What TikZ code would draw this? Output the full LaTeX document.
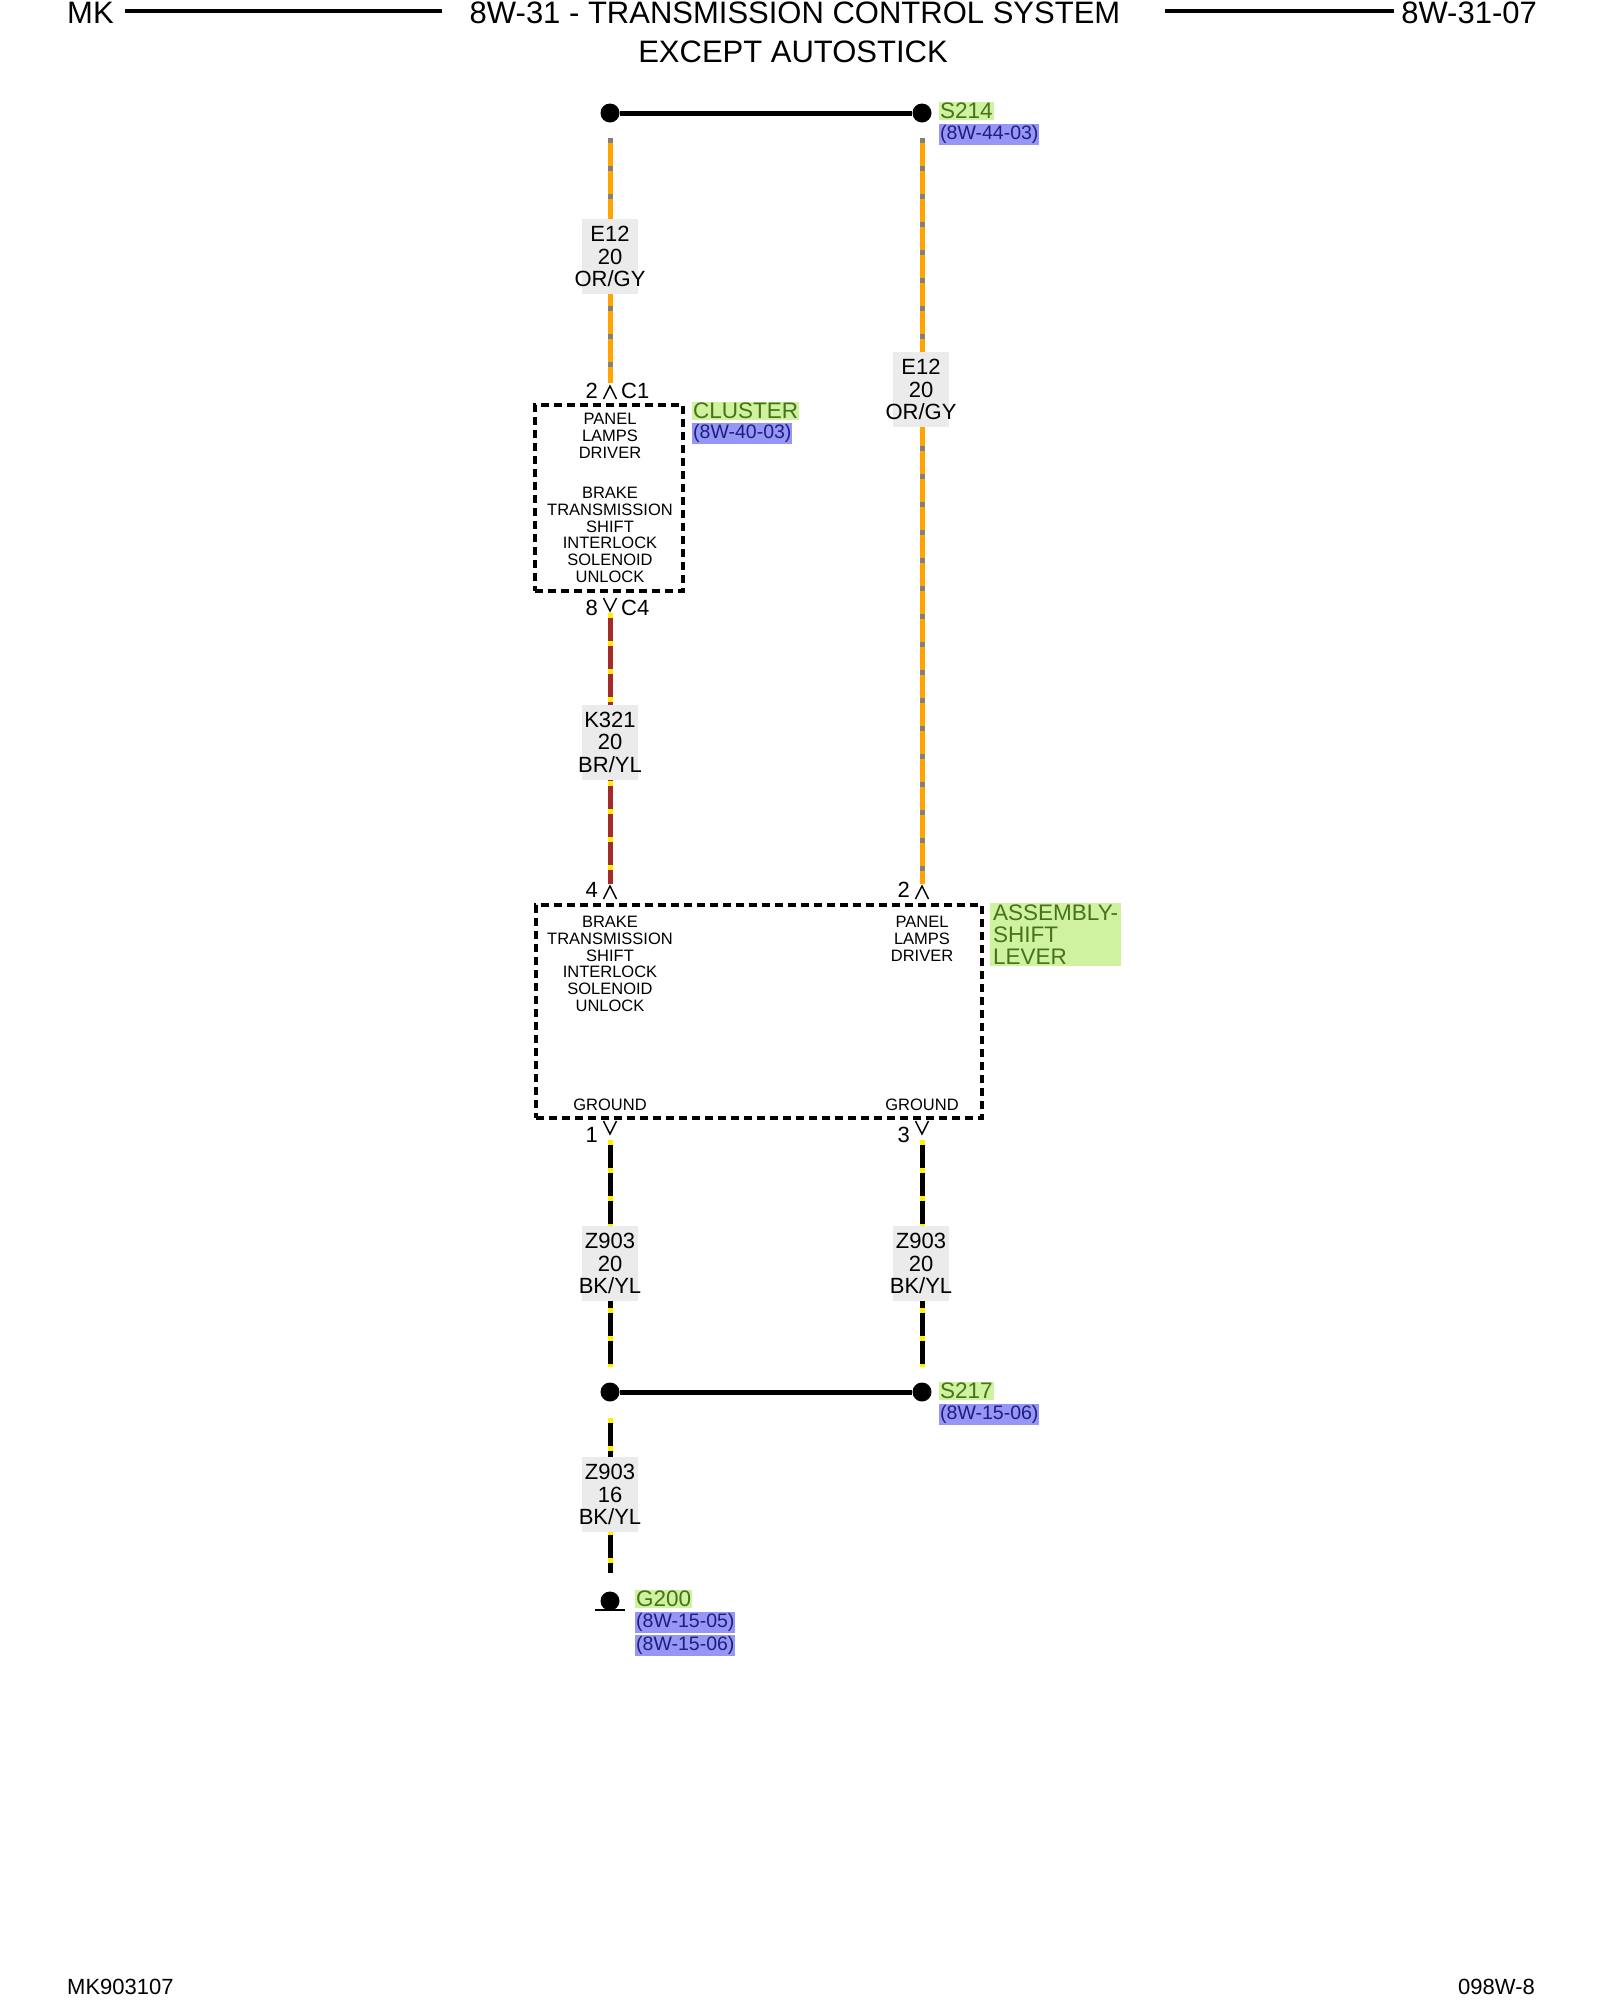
\documentclass[tikz,border=0pt]{standalone}
\usepackage{fontspec}
\setmainfont{Liberation Sans}
\usetikzlibrary{positioning}
\usetikzlibrary{calc}
\definecolor{wireor}{RGB}{255,165,0}
\definecolor{wiregy}{RGB}{128,128,128}
\definecolor{wirebr}{RGB}{165,42,42}
\definecolor{wireyl}{RGB}{255,240,0}
\definecolor{lblgray}{RGB}{235,235,235}
\definecolor{lblgreen}{RGB}{206,242,160}
\definecolor{txtgreen}{RGB}{70,115,25}
\definecolor{lblblue}{RGB}{150,150,245}
\definecolor{txtblue}{RGB}{30,30,130}
\tikzset{
	headtext/.style = {
		inner sep=0pt,
		font=\fontsize{31}{32}\selectfont
	},
	boxtext/.style = {
		align=center,
		inner sep=0pt,
		font=\fontsize{16.5}{16.7}\selectfont
	},
	pintext/.style = {
		inner sep=0pt,
		font=\fontsize{22}{22}\selectfont
	},
	wirelabel/.style = {
		fill=lblgray,
		align=center,
		inner xsep=-8pt,
		inner ysep=3pt,
		minimum width=56pt,
		minimum height=75pt,
		font=\fontsize{22}{22.5}\selectfont
	},
	wire_orgy/.style = {
		line width=5pt,
		draw=wireor,
		postaction={draw=wiregy, dash pattern=on 5pt off 23pt}
	},
	wire_bryl/.style = {
		line width=5pt,
		draw=wirebr,
		postaction={draw=wireyl, dash pattern=on 5pt off 23pt}
	},
	wire_bkyl/.style = {
		line width=5pt,
		draw=black,
		postaction={draw=wireyl, dash pattern=on 5pt off 23pt}
	},
	splice/.style = {
		circle,
		fill=black,
		inner sep=0pt,
		minimum size=19pt
	},
	module/.style = {
		draw=black,
		line width=4.5pt,
		dash pattern=on 8pt off 5pt
	},
	compname/.style = {
		fill=lblgreen,
		text=txtgreen,
		inner sep=1pt,
		anchor=west,
		font=\fontsize{22.5}{23}\selectfont
	},
	pageref/.style = {
		fill=lblblue,
		text=txtblue,
		inner sep=1pt,
		font=\fontsize{19.5}{21}\selectfont
	},
	pinmark/.style = {
		draw=black,
		line width=1.5pt
	},
}
\begin{document}
\begin{tikzpicture}[x=1pt,y=-1pt]
\useasboundingbox (0,0) rectangle (1600,2000);
% header
\node [headtext, anchor=west] (hdmk) at (67,13) {MK};
\node [headtext] (hdtitle) at (795,13) {8W-31 - TRANSMISSION CONTROL SYSTEM};
\node [headtext] (hdsub) at (793,52) {EXCEPT AUTOSTICK};
\node [headtext, anchor=east] (hdpage) at (1537,13) {8W-31-07};
\draw [line width=4.5pt] (125,11) -- (442,11);
\draw [line width=4.5pt] (1165,11) -- (1394,11);

% splice S214
\node [splice] (s214l) at (610,113) {};
\node [splice] (s214r) at (922,113) {};
\draw [line width=5pt] (s214l) -- (s214r);
\node [compname] (s214lbl) at (939,111) {S214};
\node [pageref, below=4pt of s214lbl.south west, anchor=north west] (s214ref) {(8W-44-03)};

% cluster
\node [module, minimum width=148pt, minimum height=186pt] (cluster) at (609,498) {};
\node [boxtext] (clpanel) at (610,436) {PANEL\\LAMPS\\DRIVER};
\node [boxtext] (clbrake) at (610,535) {BRAKE\\TRANSMISSION\\SHIFT\\INTERLOCK\\SOLENOID\\UNLOCK};
\node [compname] (cllbl) at (692,411) {CLUSTER};
\node [pageref, below=3pt of cllbl.south west, anchor=north west] (clref) {(8W-40-03)};

% shift lever assembly
\node [module, minimum width=446pt, minimum height=213pt] (shifter) at (759,1011.5) {};
\node [boxtext] (shbrake) at (610,964) {BRAKE\\TRANSMISSION\\SHIFT\\INTERLOCK\\SOLENOID\\UNLOCK};
\node [boxtext] (shpanel) at (922,939) {PANEL\\LAMPS\\DRIVER};
\node [boxtext] (shgnd1) at (610,1105) {GROUND};
\node [boxtext] (shgnd3) at (922,1105) {GROUND};
\node [compname, anchor=north west, align=left, minimum width=131pt, inner sep=1.5pt, font=\fontsize{22.5}{22}\selectfont] (shlbl) at (990,903) {ASSEMBLY-\\SHIFT\\LEVER};

% pins
\coordinate (c1) at (610,386);
\coordinate (c4) at (610,611);
\coordinate (sh4) at (610,886);
\coordinate (sh2) at (922,886);
\coordinate (sh1) at (610,1134);
\coordinate (sh3) at (922,1134);
\foreach \p in {c1,sh4,sh2}
	\draw [pinmark] ($(\p)+(-6.5,13)$) -- (\p) -- ($(\p)+(6.5,13)$);
\foreach \p in {c4,sh1,sh3}
	\draw [pinmark] ($(\p)+(-6.5,-13)$) -- (\p) -- ($(\p)+(6.5,-13)$);
\node [pintext, anchor=east] (c1n) at (598,391) {2};
\node [pintext, anchor=west] (c1c) at (621,391) {C1};
\node [pintext, anchor=east] (c4n) at (598,608) {8};
\node [pintext, anchor=west] (c4c) at (621,608) {C4};
\node [pintext, anchor=east] (sh4n) at (598,890) {4};
\node [pintext, anchor=east] (sh2n) at (910,890) {2};
\node [pintext, anchor=east] (sh1n) at (598,1135) {1};
\node [pintext, anchor=east] (sh3n) at (910,1135) {3};

% wires
\coordinate (e12la) at (610,138);
\coordinate (e12lb) at (610,383);
\coordinate (e12ra) at (922,138);
\coordinate (e12rb) at (922,884);
\coordinate (k321a) at (610,613);
\coordinate (k321b) at (610,884);
\coordinate (z903la) at (610,1140);
\coordinate (z903lb) at (610,1367);
\coordinate (z903ra) at (922,1140);
\coordinate (z903rb) at (922,1367);
\coordinate (z903ga) at (610,1418);
\coordinate (z903gb) at (610,1573);
\draw [wire_orgy] (e12la) -- (e12lb);
\draw [wire_orgy] (e12ra) -- (e12rb);
\draw [wire_bryl] (k321a) -- (k321b);
\draw [wire_bkyl] (z903la) -- (z903lb);
\draw [wire_bkyl] (z903ra) -- (z903rb);
\draw [wire_bkyl] (z903ga) -- (z903gb);
\node [wirelabel] (e12ll) at (610,256.5) {E12\\20\\OR/GY};
\node [wirelabel] (e12rl) at (921,389.5) {E12\\20\\OR/GY};
\node [wirelabel] (k321l) at (610,742) {K321\\20\\BR/YL};
\node [wirelabel] (z903ll) at (610,1263.5) {Z903\\20\\BK/YL};
\node [wirelabel] (z903rl) at (921,1263.5) {Z903\\20\\BK/YL};
\node [wirelabel] (z903gl) at (610,1494.5) {Z903\\16\\BK/YL};

% splice S217
\node [splice] (s217l) at (610,1392) {};
\node [splice] (s217r) at (922,1392) {};
\draw [line width=5pt] (s217l) -- (s217r);
\node [compname] (s217lbl) at (939,1391) {S217};
\node [pageref, below=4pt of s217lbl.south west, anchor=north west] (s217ref) {(8W-15-06)};

% ground G200
\node [splice] (g200) at (610,1601) {};
\draw [line width=2.5pt] ($(g200)+(-15,9)$) -- ($(g200)+(15,9)$);
\node [compname] (g200lbl) at (635,1599) {G200};
\node [pageref, below=4pt of g200lbl.south west, anchor=north west] (g200ref1) {(8W-15-05)};
\node [pageref, below=2.5pt of g200ref1.south west, anchor=north west] (g200ref2) {(8W-15-06)};

% footer
\node [pintext, anchor=west] (ftcode) at (67,1987) {MK903107};
\node [pintext, anchor=east] (ftpage) at (1535,1987) {098W-8};
\end{tikzpicture}
\end{document}
